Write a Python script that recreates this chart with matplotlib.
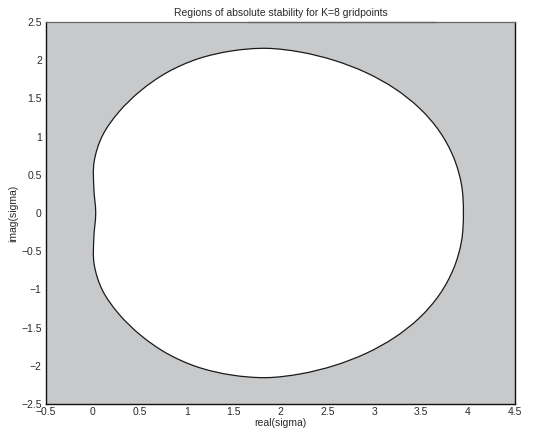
import numpy as np
import matplotlib.pyplot as plt
from matplotlib.path import Path
from matplotlib.patches import PathPatch

plt.rcParams['font.family'] = ['Liberation Sans', 'DejaVu Sans']

# Boundary of the stability region in the sigma plane (closed loop, counter-clockwise)
real_sigma = [3.950, 3.930, 3.846, 3.696, 3.483, 3.217, 2.911, 2.576, 2.221, 1.850,
              1.476, 1.116, 0.789, 0.508, 0.276, 0.101, 0.013, 0.010, 0.030,
              0.010, 0.013, 0.101, 0.276, 0.508, 0.789, 1.116, 1.476, 1.850,
              2.221, 2.576, 2.911, 3.217, 3.483, 3.696, 3.846, 3.930]
imag_sigma = [0.000, 0.367, 0.726, 1.066, 1.370, 1.629, 1.838, 1.996, 2.104, 2.155,
              2.120, 2.016, 1.838, 1.599, 1.321, 1.010, 0.669, 0.324, 0.000,
              -0.324, -0.669, -1.010, -1.321, -1.599, -1.838, -2.016, -2.120, -2.155,
              -2.104, -1.996, -1.838, -1.629, -1.370, -1.066, -0.726, -0.367]

xticks = [-0.5, 0, 0.5, 1, 1.5, 2, 2.5, 3, 3.5, 4, 4.5]
yticks = [-2.5, -2, -1.5, -1, -0.5, 0, 0.5, 1, 1.5, 2, 2.5]


def smooth_loop(xs, ys, alpha=0.5):
    # closed centripetal Catmull-Rom curve through the points, as cubic Bezier segments
    pts = np.column_stack([xs, ys])
    n = len(pts)
    verts = [pts[0]]
    codes = [Path.MOVETO]
    for i in range(n):
        p0, p1 = pts[i - 1], pts[i]
        p2, p3 = pts[(i + 1) % n], pts[(i + 2) % n]
        d01 = np.hypot(*(p1 - p0)) ** alpha
        d12 = np.hypot(*(p2 - p1)) ** alpha
        d23 = np.hypot(*(p3 - p2)) ** alpha
        m1 = (p1 - p0) / d01 - (p2 - p0) / (d01 + d12) + (p2 - p1) / d12
        m2 = (p2 - p1) / d12 - (p3 - p1) / (d12 + d23) + (p3 - p2) / d23
        verts += [p1 + m1 * d12 / 3, p2 - m2 * d12 / 3, p2]
        codes += [Path.CURVE4] * 3
    return Path(verts, codes)


fig = plt.figure(figsize=(5.4, 4.41), dpi=100)
ax = fig.add_axes([0.0852, 0.0839, 0.8685, 0.8663])

# unstable part shaded grey, stable region left white
ax.set_facecolor('#c8c9cb')
ax.add_patch(PathPatch(smooth_loop(real_sigma, imag_sigma), facecolor='white',
                       edgecolor='#1a1a1a', linewidth=0.9))

ax.set_xlim(-0.5, 4.5)
ax.set_ylim(-2.5, 2.5)
ax.set_xticks(xticks)
ax.set_yticks(yticks)
ax.set_xticklabels(['\u22120.5', '0', '0.5', '1', '1.5', '2', '2.5', '3', '3.5', '4', '4.5'])
ax.set_yticklabels(['\u22122.5', '\u22122', '\u22121.5', '\u22121', '\u22120.5', '0',
                    '0.5', '1', '1.5', '2', '2.5'])
ax.tick_params(length=0, labelsize=7.5, colors='#2a2a2a')
ax.tick_params(axis='x', pad=2)
ax.tick_params(axis='y', pad=3)

for side in ['left', 'bottom', 'right']:
    ax.spines[side].set_color('#111111')
    ax.spines[side].set_linewidth(1.0)
ax.spines['top'].set_color('#666666')
ax.spines['top'].set_linewidth(0.9)
ax.plot([1.65, 3.65], [2.5, 2.5], color='#8a8a8a', linewidth=1.0, clip_on=False)

ax.set_xlabel('real(sigma)', fontsize=7.5, color='#2a2a2a', labelpad=1)
ax.set_ylabel('imag(sigma)', fontsize=7.5, color='#2a2a2a', labelpad=2)
ax.set_title('Regions of absolute stability for K=8 gridpoints', fontsize=7.5,
             color='#2a2a2a', pad=4)

fig.savefig('out.png', dpi=100)
